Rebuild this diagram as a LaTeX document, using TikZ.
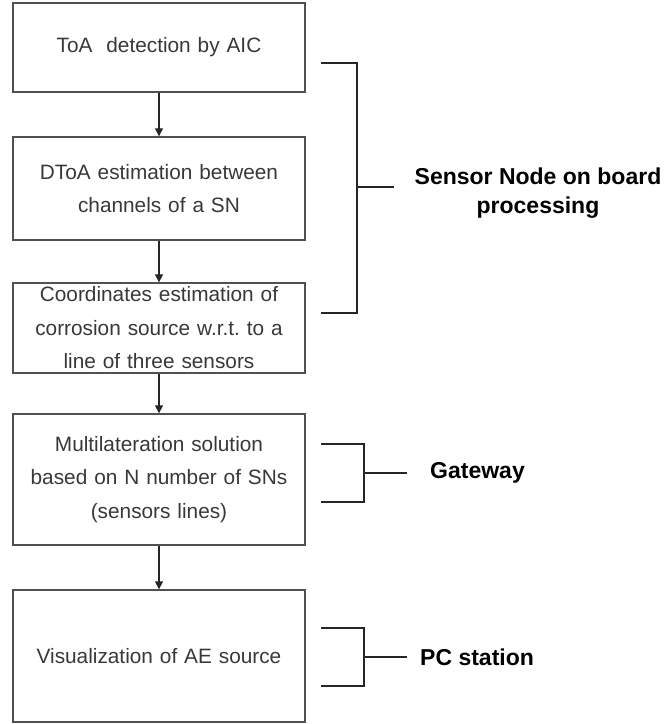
\documentclass[tikz,border=0pt]{standalone}
\usepackage{fontspec}
\setmainfont{Liberation Sans}
\usetikzlibrary{arrows.meta}
\definecolor{boxtxt}{HTML}{383838}
\definecolor{boxline}{HTML}{505050}
\frenchspacing
\begin{document}
\begin{tikzpicture}[x=1pt,y=-1pt,
  stage/.style={draw=boxline,line width=1.4pt,minimum width=292pt,text width=288pt,align=center,inner sep=0pt,text=boxtxt,font=\fontsize{20.8}{33.5}\selectfont},
  flow/.style={line width=1.3pt,draw=black!85,-{Triangle[length=8pt,width=8pt]}},
  brace/.style={line width=2.6pt,draw=black!85},
  stub/.style={line width=1.6pt,draw=black!85},
  tag/.style={font=\fontsize{23}{29}\selectfont\bfseries,align=center,inner sep=0pt}]
\useasboundingbox (0,0) rectangle (665,724);
% processing chain
  \node[stage,minimum height=89pt]  (toa)   at (159,47.5)  {ToA\ \ detection by AIC};
  \node[stage,minimum height=103pt] (dtoa)  at (159,188.5) {DToA estimation between\\channels of a SN};
  \node[stage,minimum height=90pt]  (coord) at (159,328)   {Coordinates estimation of\\corrosion source w.r.t. to a\\line of three sensors};
  \node[stage,minimum height=131pt] (multi) at (159,479.5) {Multilateration solution\\based on N number of SNs\\(sensors lines)};
  \node[stage,minimum height=132pt] (visu)  at (159,656)   {Visualization of AE source};
  \draw[flow] (toa) -- (dtoa);
  \draw[flow] (dtoa) -- (coord);
  \draw[flow] (coord) -- (multi);
  \draw[flow] (multi) -- (visu);
% where it runs
  \node[tag] (sn) at (538,193) {Sensor Node on board\\processing};
  \draw[brace] (321,63) -| (357,313) -- (321,313);
  \coordinate (snjoin) at (357,187);
  \draw[stub,shorten >=20pt] (snjoin) -- (snjoin -| sn.west);
  \node[tag,anchor=west] (gw) at (430,473) {Gateway};
  \draw[brace] (321,444) -| (364,502) -- (321,502);
  \coordinate (gwjoin) at (364,473);
  \draw[stub,shorten >=23pt] (gwjoin) -- (gw.west);
  \node[tag,anchor=west] (pc) at (420,657) {PC station};
  \draw[brace] (321,628) -| (364,686) -- (321,686);
  \coordinate (pcjoin) at (364,657);
  \draw[stub,shorten >=13pt] (pcjoin) -- (pc.west);
\end{tikzpicture}
\end{document}
